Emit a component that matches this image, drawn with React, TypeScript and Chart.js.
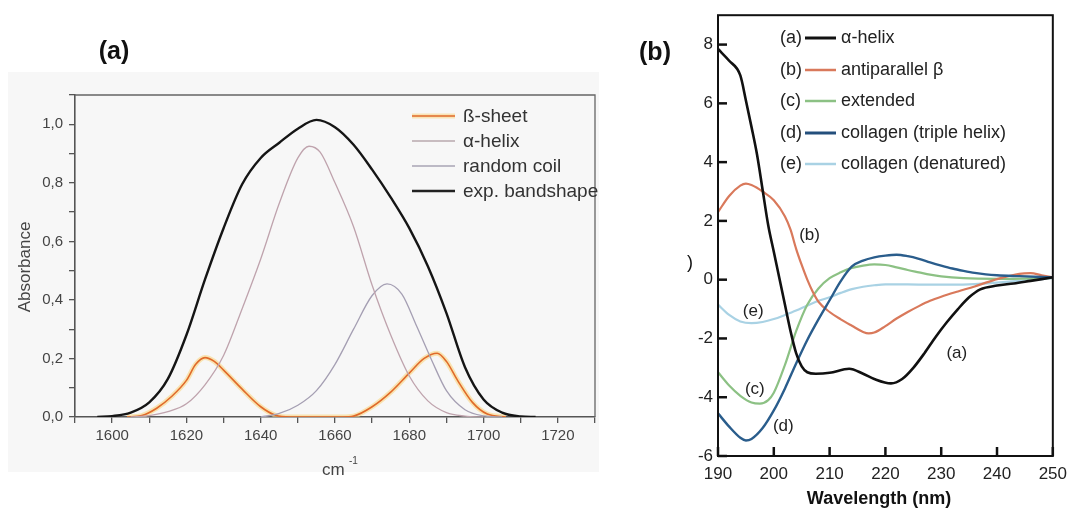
import React, { useEffect, useRef } from 'react';
import { Chart, registerables } from 'chart.js';
Chart.register(...registerables);

const FONT = '"Liberation Sans", Arial, sans-serif';

// ---------- Panel (a): FTIR amide I band ----------
const bandX = [1596, 1600, 1605, 1610, 1615, 1620, 1625, 1630, 1635, 1640, 1645, 1650, 1655, 1660, 1665, 1670, 1675, 1680, 1685, 1690, 1695, 1700, 1705, 1710, 1714];
const bandY = [0, 0.003, 0.015, 0.05, 0.13, 0.28, 0.47, 0.645, 0.795, 0.885, 0.937, 0.985, 1.015, 0.99, 0.93, 0.845, 0.75, 0.645, 0.515, 0.355, 0.17, 0.06, 0.015, 0.002, 0];

const alphaX = [1605, 1610, 1615, 1620, 1625, 1630, 1635, 1640, 1645, 1650, 1653, 1656, 1660, 1665, 1670, 1675, 1680, 1685, 1690, 1695, 1700];
const alphaY = [0, 0.005, 0.018, 0.045, 0.11, 0.21, 0.37, 0.54, 0.73, 0.885, 0.925, 0.905, 0.8, 0.65, 0.45, 0.28, 0.14, 0.055, 0.015, 0.003, 0];

const coilX = [1640, 1645, 1650, 1655, 1660, 1665, 1670, 1674, 1678, 1682, 1686, 1690, 1695, 1700, 1705];
const coilY = [0, 0.012, 0.04, 0.09, 0.18, 0.3, 0.415, 0.455, 0.42, 0.31, 0.195, 0.09, 0.025, 0.004, 0];

const betaX = [1604, 1608, 1612, 1616, 1620, 1622.5, 1625, 1627.5, 1630, 1635, 1640, 1644, 1648, 1655, 1662, 1665, 1670, 1675, 1680, 1684, 1687.5, 1690, 1693, 1697, 1701, 1706];
const betaY = [0, 0.005, 0.03, 0.07, 0.125, 0.18, 0.203, 0.19, 0.16, 0.095, 0.035, 0.006, 0, 0, 0, 0.003, 0.035, 0.085, 0.15, 0.2, 0.218, 0.19, 0.125, 0.05, 0.01, 0];

const legendA = ['ß-sheet', 'α-helix', 'random coil', 'exp. bandshape'];

// ---------- Panel (b): CD spectra ----------
const helixNm = [190, 192, 194, 195, 196, 197, 198, 199, 200, 201, 202, 203, 204, 205, 206, 207.5, 210, 213.5, 216, 218, 221, 223, 225, 227, 229, 231, 233, 235, 237, 240, 243, 246, 250];
const helixVal = [7.85, 7.45, 6.95, 6.1, 5.2, 4.25, 3.05, 1.85, 0.95, 0.05, -0.85, -1.75, -2.5, -2.95, -3.15, -3.2, -3.17, -3.03, -3.2, -3.38, -3.53, -3.38, -3.0, -2.5, -1.95, -1.45, -1.0, -0.6, -0.33, -0.2, -0.13, -0.04, 0.08];

const antiNm = [190, 192, 194, 195, 196, 198, 200, 202, 203, 204, 205, 206, 207, 208, 210, 212, 214, 216, 217, 218, 220, 222, 224, 226, 228, 230, 233, 236, 238, 240, 242, 244, 246, 248, 250];
const antiVal = [2.3, 2.85, 3.2, 3.27, 3.22, 3.0, 2.7, 2.15, 1.7, 1.05, 0.5, 0.0, -0.42, -0.75, -1.1, -1.35, -1.57, -1.78, -1.83, -1.8, -1.58, -1.32, -1.1, -0.9, -0.72, -0.58, -0.4, -0.23, -0.1, 0.02, 0.12, 0.2, 0.22, 0.15, 0.08];

const extNm = [190, 192, 194, 196, 197.5, 199, 200, 202, 204, 206, 208, 210, 212, 214, 216, 218, 220, 222, 224, 226, 228, 230, 234, 240, 250];
const extVal = [-3.15, -3.6, -3.95, -4.18, -4.22, -4.1, -3.85, -2.9, -1.75, -0.85, -0.3, 0.05, 0.25, 0.4, 0.48, 0.52, 0.5, 0.42, 0.33, 0.25, 0.17, 0.11, 0.05, 0.03, 0.06];

const tripleNm = [190, 192, 194, 195, 196, 198, 200, 202, 204, 206, 208, 210, 212, 214, 216, 218, 220, 222, 224, 226, 228, 230, 232, 234, 236, 238, 240, 244, 250];
const tripleVal = [-4.55, -5.0, -5.38, -5.47, -5.42, -5.05, -4.45, -3.7, -2.85, -2.05, -1.35, -0.7, -0.05, 0.45, 0.65, 0.76, 0.82, 0.85, 0.8, 0.71, 0.59, 0.48, 0.38, 0.3, 0.23, 0.18, 0.15, 0.12, 0.08];

const denNm = [190, 192, 194, 196, 198, 200, 202, 204, 206, 208, 210, 212, 214, 216, 218, 220, 224, 228, 232, 236, 240, 244, 250];
const denVal = [-0.85, -1.2, -1.42, -1.48, -1.44, -1.34, -1.2, -1.05, -0.88, -0.72, -0.6, -0.45, -0.32, -0.24, -0.19, -0.16, -0.16, -0.17, -0.17, -0.15, -0.1, -0.04, 0.05];

const legendTagsB = ['(a)', '(b)', '(c)', '(d)', '(e)'];
const legendB = ['α-helix', 'antiparallel β', 'extended', 'collagen (triple helix)', 'collagen (denatured)'];

const annotTags = ['(a)', '(b)', '(c)', '(d)', '(e)'];
const annotNm = [232.8, 206.4, 196.6, 201.7, 196.3];
const annotVal = [-2.51, 1.51, -3.74, -4.99, -1.06];

const xTicksB = [190, 200, 210, 220, 230, 240, 250];
const yTicksB = [-6, -4, -2, 0, 2, 4, 6, 8];

const pts = (xs: number[], ys: number[]) => xs.map((x, i) => ({ x, y: ys[i] }));

const lineDs = (label: string, xs: number[], ys: number[], color: string, width: number) => ({
  label,
  data: pts(xs, ys),
  borderColor: color,
  borderWidth: width,
  pointRadius: 0,
  fill: false,
  cubicInterpolationMode: 'monotone' as const,
});

const panelAPlugin = {
  id: 'panelA',
  beforeDraw(chart: any) {
    const ctx = chart.ctx;
    ctx.save();
    ctx.fillStyle = '#f7f7f7';
    ctx.fillRect(8, 72, chart.width - 8, 400);
    ctx.restore();
  },
  afterDraw(chart: any) {
    const { ctx, chartArea: ca } = chart;
    ctx.save();
    ctx.strokeStyle = '#666';
    ctx.lineWidth = 1.3;
    ctx.beginPath();
    ctx.moveTo(ca.left, ca.top);
    ctx.lineTo(ca.right, ca.top);
    ctx.lineTo(ca.right, ca.bottom);
    ctx.stroke();

    ctx.fillStyle = '#111';
    ctx.font = `bold 25px ${FONT}`;
    ctx.textAlign = 'center';
    ctx.textBaseline = 'middle';
    ctx.fillText('(a)', 114, 52);

    ctx.fillStyle = '#444';
    ctx.font = `17px ${FONT}`;
    ctx.save();
    ctx.translate(25, 267);
    ctx.rotate(-Math.PI / 2);
    ctx.fillText('Absorbance', 0, 0);
    ctx.restore();

    ctx.textAlign = 'left';
    ctx.font = `17px ${FONT}`;
    ctx.fillText('cm', 322, 470);
    ctx.font = `10px ${FONT}`;
    ctx.fillText('-1', 349, 461);

    // legend
    const rows = [116, 141, 166, 191];
    const colors = ['#e06a2a', '#b9a9ae', '#a9a4b4', '#222'];
    const widths = [1.6, 1.4, 1.4, 2.4];
    ctx.font = `19px ${FONT}`;
    rows.forEach((y, i) => {
      if (i === 0) {
        ctx.strokeStyle = 'rgba(250,214,130,0.55)';
        ctx.lineWidth = 5;
        ctx.beginPath();
        ctx.moveTo(412, y);
        ctx.lineTo(455, y);
        ctx.stroke();
      }
      ctx.strokeStyle = colors[i];
      ctx.lineWidth = widths[i];
      ctx.beginPath();
      ctx.moveTo(412, y);
      ctx.lineTo(455, y);
      ctx.stroke();
      ctx.fillStyle = '#333';
      ctx.fillText(legendA[i], 463, y + 1);
    });
    ctx.restore();
  },
};

const panelBPlugin = {
  id: 'panelB',
  afterDraw(chart: any) {
    const { ctx, chartArea: ca, scales } = chart;
    const ox = 600;
    ctx.save();
    ctx.strokeStyle = '#111';
    ctx.lineWidth = 2;
    ctx.strokeRect(ca.left, ca.top, ca.right - ca.left, ca.bottom - ca.top);
    ctx.lineWidth = 2.5;
    xTicksB.forEach((v) => {
      const x = scales.x.getPixelForValue(v);
      ctx.beginPath();
      ctx.moveTo(x, ca.bottom);
      ctx.lineTo(x, ca.bottom - 9);
      ctx.stroke();
    });
    yTicksB.forEach((v) => {
      const y = scales.y.getPixelForValue(v);
      ctx.beginPath();
      ctx.moveTo(ca.left, y);
      ctx.lineTo(ca.left + 9, y);
      ctx.stroke();
    });

    ctx.fillStyle = '#111';
    ctx.textAlign = 'center';
    ctx.textBaseline = 'middle';
    ctx.font = `bold 25px ${FONT}`;
    ctx.fillText('(b)', 655 - ox, 53);
    ctx.font = `bold 18px ${FONT}`;
    ctx.fillText('Wavelength (nm)', 879 - ox, 499);
    ctx.font = `18px ${FONT}`;
    ctx.fillText(')', 690 - ox, 263);

    // legend
    const rows = [38, 70, 101, 133, 164];
    const colors = ['#111', '#d9795b', '#8cc184', '#244f7c', '#a9d2e4'];
    const widths = [3, 2.5, 2.5, 3, 2.5];
    ctx.font = `18px ${FONT}`;
    rows.forEach((y, i) => {
      ctx.fillStyle = '#222';
      ctx.textAlign = 'left';
      ctx.fillText(legendTagsB[i], 780 - ox, y);
      ctx.strokeStyle = colors[i];
      ctx.lineWidth = widths[i];
      ctx.beginPath();
      ctx.moveTo(805 - ox, y);
      ctx.lineTo(836 - ox, y);
      ctx.stroke();
      ctx.fillText(legendB[i], 841 - ox, y);
    });

    // curve annotations
    ctx.font = `17px ${FONT}`;
    ctx.textAlign = 'center';
    ctx.fillStyle = '#222';
    annotTags.forEach((t, i) => {
      ctx.fillText(t, scales.x.getPixelForValue(annotNm[i]), scales.y.getPixelForValue(annotVal[i]));
    });
    ctx.restore();
  },
};

function PanelA() {
  const ref = useRef<HTMLCanvasElement>(null);
  useEffect(() => {
    if (!ref.current) return;
    const chart = new Chart(ref.current, {
      type: 'line',
      data: {
        datasets: [
          lineDs('exp. bandshape', bandX, bandY, '#151515', 2.4),
          lineDs('α-helix', alphaX, alphaY, '#bfa3ad', 1.3),
          lineDs('random coil', coilX, coilY, '#a59fb3', 1.3),
          lineDs('ß-sheet', betaX, betaY, '#e06a2a', 1.6),
          lineDs('glow', betaX, betaY, 'rgba(250,214,130,0.6)', 5),
        ],
      },
      options: {
        animation: false,
        responsive: false,
        events: [],
        layout: { padding: { top: 95, right: 2, left: 0, bottom: 0 } },
        plugins: { legend: { display: false }, tooltip: { enabled: false } },
        scales: {
          x: {
            type: 'linear',
            min: 1590,
            max: 1730,
            afterFit: (s: any) => { s.height = 94; },
            grid: { drawOnChartArea: false, drawTicks: true, tickLength: 6, color: '#555', lineWidth: 1.3 },
            border: { display: true, color: '#555', width: 1.6 },
            ticks: {
              stepSize: 10,
              autoSkip: false,
              maxRotation: 0,
              padding: 4,
              color: '#444',
              font: { family: FONT, size: 15 },
              callback: (v: any) => (v % 20 === 0 && v >= 1600 && v <= 1720 ? String(v) : ''),
            },
          },
          y: {
            type: 'linear',
            min: 0,
            max: 1.1,
            afterFit: (s: any) => { s.width = 75; },
            grid: { drawOnChartArea: false, drawTicks: true, tickLength: 6, color: '#555', lineWidth: 1.3 },
            border: { display: true, color: '#555', width: 1.6 },
            ticks: {
              stepSize: 0.1,
              autoSkip: false,
              padding: 6,
              color: '#444',
              font: { family: FONT, size: 15 },
              callback: (v: any) => {
                const k = Math.round(v * 10);
                return k % 2 === 0 && k <= 10 ? (k / 10).toFixed(1).replace('.', ',') : '';
              },
            },
          },
        },
      },
      plugins: [panelAPlugin],
    } as any);
    return () => chart.destroy();
  }, []);
  return <canvas ref={ref} width={599} height={511} style={{ position: 'absolute', left: 0, top: 0 }} />;
}

function PanelB() {
  const ref = useRef<HTMLCanvasElement>(null);
  useEffect(() => {
    if (!ref.current) return;
    const chart = new Chart(ref.current, {
      type: 'line',
      data: {
        datasets: [
          lineDs('α-helix', helixNm, helixVal, '#111', 2.6),
          lineDs('collagen (triple helix)', tripleNm, tripleVal, '#2a5d8c', 2.4),
          lineDs('antiparallel β', antiNm, antiVal, '#d9795b', 2.2),
          lineDs('extended', extNm, extVal, '#8cc184', 2.2),
          lineDs('collagen (denatured)', denNm, denVal, '#a9d2e4', 2.2),
        ],
      },
      options: {
        animation: false,
        responsive: false,
        events: [],
        layout: { padding: { top: 15, right: 20, left: 0, bottom: 0 } },
        plugins: { legend: { display: false }, tooltip: { enabled: false } },
        scales: {
          x: {
            type: 'linear',
            min: 190,
            max: 250,
            afterFit: (s: any) => { s.height = 55; },
            grid: { display: false, drawTicks: false },
            border: { display: false },
            ticks: {
              stepSize: 10,
              autoSkip: false,
              maxRotation: 0,
              padding: 8,
              color: '#222',
              font: { family: FONT, size: 17 },
            },
          },
          y: {
            type: 'linear',
            min: -6,
            max: 9,
            afterFit: (s: any) => { s.width = 118; },
            grid: { display: false, drawTicks: false },
            border: { display: false },
            ticks: {
              stepSize: 2,
              autoSkip: false,
              padding: 5,
              color: '#222',
              font: { family: FONT, size: 17 },
              callback: (v: any) => (yTicksB.includes(v) ? String(v) : ''),
            },
          },
        },
      },
      plugins: [panelBPlugin],
    } as any);
    return () => chart.destroy();
  }, []);
  return <canvas ref={ref} width={475} height={511} style={{ position: 'absolute', left: 600, top: 0 }} />;
}

export default function App() {
  return (
    <div style={{ position: 'absolute', left: 0, top: 0, width: 1075, height: 511, background: '#fff', overflow: 'hidden' }}>
      <PanelA />
      <PanelB />
    </div>
  );
}
